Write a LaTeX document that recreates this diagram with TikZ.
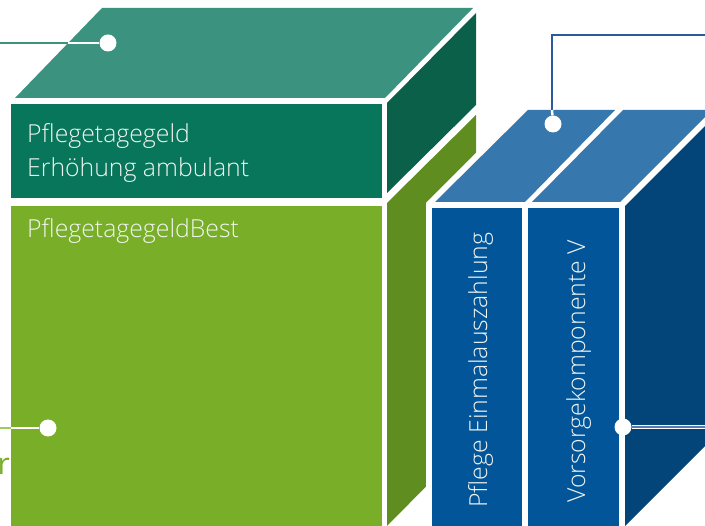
\documentclass[tikz,border=0pt]{standalone}
\usepackage{fontspec}
\IfFontExistsTF{Open Sans Light}{\setmainfont{Open Sans Light}}{\setmainfont{Open Sans}}
\newfontfamily\regfont{Open Sans}
\definecolor{gtop}{HTML}{3B937F}
\definecolor{gfront}{HTML}{08765B}
\definecolor{gright}{HTML}{0A6049}
\definecolor{lfront}{HTML}{78AE28}
\definecolor{lright}{HTML}{5F8D20}
\definecolor{btop}{HTML}{3677AD}
\definecolor{bfront}{HTML}{03559A}
\definecolor{bright}{HTML}{034579}
\definecolor{bline}{HTML}{2A5A9B}
\definecolor{lline}{HTML}{9CCB5E}
\definecolor{txt}{HTML}{F0F4F0}
\begin{document}
\begin{tikzpicture}[x=1pt,y=-1pt,
  lbl/.style={text=txt, inner sep=0pt, font=\fontsize{24.8}{28}\selectfont},
  dot/.style={circle, fill=white, inner sep=0pt, minimum size=17pt},
  wline/.style={white, line width=2.5pt}]
\useasboundingbox (0,0) rectangle (705,526);
\clip (0,0) rectangle (705,526);
% green cube
\fill[gtop] (15,98) -- (385,98) -- (473,8) -- (102,8) -- cycle;
\fill[gright] (387,103) -- (476,13) -- (476,105) -- (387,193) -- cycle;
\fill[lright] (387,203) -- (476,115) -- (476,436) -- (387,526) -- cycle;
\fill[gfront] (11,104) rectangle (382,198);
\fill[lfront] (11,206) rectangle (382,530);
% halo of blue cube
\fill[white] (426,530) -- (426,203) -- (530,99) -- (720,99) -- (720,530) -- cycle;
% blue cube
\fill[btop] (435,202) -- (525,202) -- (615,110) -- (528,110) -- cycle;
\fill[btop] (532,202) -- (620,202) -- (712,110) -- (623,110) -- cycle;
\fill[bright] (625,206) -- (715,116) -- (715,436) -- (625,526) -- cycle;
\fill[bfront] (432,208) rectangle (522,530);
\fill[bfront] (528,208) rectangle (619,530);
% texts
\node[lbl, anchor=base west] (t1) at (27,143) {Pflegetagegeld};
\node[lbl, anchor=base west] (t2) at (27,177) {Erhöhung ambulant};
\node[lbl, anchor=base west] (t3) at (27,238) {PflegetagegeldBest};
\node[lbl, anchor=base west, rotate=90] (t4) at (487,508) {Pflege Einmalauszahlung};
\node[lbl, anchor=base west, rotate=90] (t5) at (585,503) {Vorsorgekomponente V};
\node[anchor=base west, inner sep=0pt, text=lfront, font=\regfont\fontsize{30}{30}\selectfont] (r) at (-2.5,475) {r};
% dots
\node[dot] (d1) at (108,43) {};
\node[dot] (d2) at (48,428) {};
\node[dot] (d3) at (553,124) {};
\node[dot] (d4) at (623,427) {};
% connectors
\coordinate (e1) at (0,43); \coordinate (f1) at (68,43);
\draw[gtop, line width=1.3pt] (e1) -- (f1);
\draw[wline] (f1) -- (d1);
\coordinate (e2) at (0,428); \coordinate (f2) at (11,428);
\draw[lline, line width=1.3pt] (e2) -- (f2);
\draw[wline] (f2) -- (d2);
\coordinate (f3) at (552,110); \coordinate (g3) at (552,35); \coordinate (e3) at (705,35);
\draw[bline, line width=1.5pt] (f3) -- (g3) -- (e3);
\draw[wline] (f3) -- (d3);
\coordinate (e4) at (705,427);
\draw[white, line width=4.5pt] (d4) -- (e4);
\draw[bline!80!white, line width=1.3pt] (d4) -- (e4);
\end{tikzpicture}
\end{document}
